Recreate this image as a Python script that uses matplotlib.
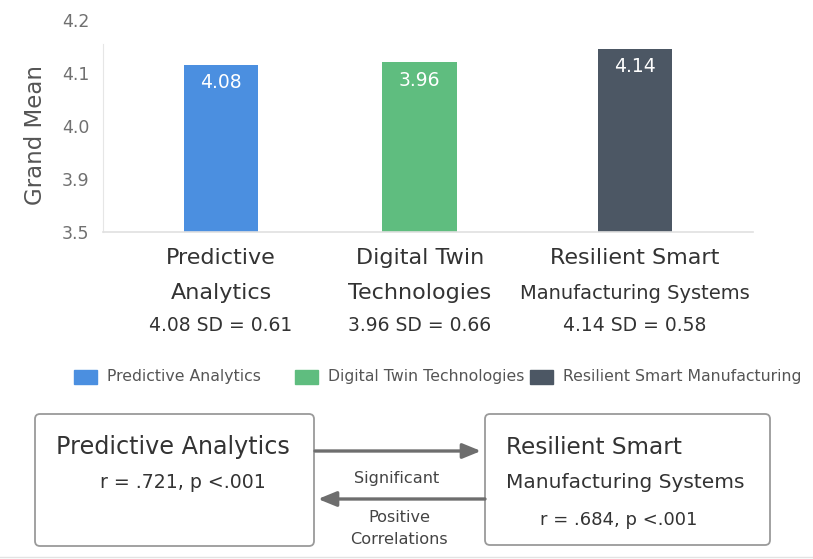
import numpy as np
import matplotlib
matplotlib.use("Agg")
import matplotlib.pyplot as plt
from matplotlib.patches import Rectangle, FancyBboxPatch
from matplotlib.scale import FuncScale

plt.rcParams['font.family'] = ['DejaVu Sans']

# --- data -------------------------------------------------------------
categories = ["Predictive\nAnalytics", "Digital Twin\nTechnologies",
              "Resilient Smart\nManufacturing Systems"]
legend_names = ["Predictive Analytics", "Digital Twin Technologies",
                "Resilient Smart Manufacturing"]
bar_heights = [4.115, 4.12, 4.145]         # drawn heights
mean_labels = ["4.08", "3.96", "4.14"]     # printed on the bars
sd_labels = ["4.08 SD = 0.61", "3.96 SD = 0.66", "4.14 SD = 0.58"]
ytick_vals = [3.5, 3.9, 4.0, 4.1, 4.2]     # evenly spaced on the axis

colors = ["#4b8fe0", "#5fbd7f", "#4c5764"]

# uneven axis: each tick gets the same spacing
tick_pos = np.arange(len(ytick_vals), dtype=float)
def fwd(v):
    return np.interp(v, ytick_vals, tick_pos, left=-1, right=5)
def inv(p):
    return np.interp(p, tick_pos, ytick_vals)

W, H = 813, 559
fig = plt.figure(figsize=(W / 100, H / 100), dpi=100)

# --- bar chart ----------------------------------------------------------
ax = fig.add_axes([103 / W, (H - 232) / H, (753 - 103) / W, (232 - 20) / H])
ax.set_yscale(FuncScale(ax, (fwd, inv)))
x = np.array([0, 0.96, 2])   # bar slots (middle one sits a touch left)
bars = ax.bar(x, np.array(bar_heights) - 3.5, bottom=3.5, width=0.36,
              color=colors, zorder=2)
ax.set_ylim(3.5, 4.2)
ax.set_xlim(-0.57, 2.57)
ax.set_yticks(ytick_vals)
ax.set_yticklabels([f"{v:.1f}" for v in ytick_vals])
ax.tick_params(axis="y", length=0, pad=10, labelsize=12.5, labelcolor="#707070")
ax.set_xticks([])
for s in ["top", "right"]:
    ax.spines[s].set_visible(False)
ax.spines["left"].set_color("#e6e6e6")
ax.spines["left"].set_bounds(3.5, 4.155)
ax.spines["bottom"].set_color("#e0e0e0")
ax.spines["bottom"].set_linewidth(1.2)

for xi, h, lab in zip(x, bar_heights, mean_labels):
    ax.annotate(lab, xy=(xi, h), xytext=(0, -6), textcoords="offset points",
                ha="center", va="top", color="white", fontsize=13.5)

for xi, cat, sd in zip(x, categories, sd_labels):
    l1, l2 = cat.split("\n")
    fs2 = 14 if len(l2) > 15 else 16
    for txt, off, fs in [(l1, -19, 16), (l2, -44, fs2), (sd, -67, 13.5)]:
        ax.annotate(txt, xy=(xi, 0), xycoords=("data", "axes fraction"),
                    xytext=(0, off), textcoords="offset points",
                    ha="center", va="center", fontsize=fs, color="#333333",
                    annotation_clip=False)

fig.text(35 / W, (H - 135) / H, "Grand Mean", rotation=90, ha="center",
         va="center", fontsize=16.5, color="#555555")

# --- overlay in pixel coords for legend and diagram ---------------------
ov = fig.add_axes([0, 0, 1, 1], zorder=-1)
ov.set_xlim(0, W)
ov.set_ylim(H, 0)
ov.axis("off")

legend_x = [74, 295, 530]
for lx, c, name in zip(legend_x, colors, legend_names):
    ov.add_patch(Rectangle((lx, 370), 23, 14, color=c))
    ov.text(lx + 33, 377, name, va="center", ha="left", fontsize=11.3,
            color="#555555")

box_kw = dict(boxstyle="round,pad=0,rounding_size=5", fc="white",
              ec="#9a9a9a", lw=1.3)
ov.add_patch(FancyBboxPatch((35, 414), 279, 132, **box_kw))
ov.add_patch(FancyBboxPatch((485, 414), 285, 131, **box_kw))

ov.text(56, 447, "Predictive Analytics", ha="left", va="center",
        fontsize=17.2, color="#333333")
ov.text(100, 482, "r = .721, p <.001", ha="left", va="center",
        fontsize=13.6, color="#333333")
ov.text(506, 448, "Resilient Smart", ha="left", va="center",
        fontsize=16.7, color="#333333")
ov.text(506, 482, "Manufacturing Systems", ha="left", va="center",
        fontsize=14.5, color="#333333")
ov.text(540, 520, "r = .684, p <.001", ha="left", va="center",
        fontsize=13, color="#333333")

arrow_kw = dict(arrowstyle="-|>,head_length=1.1,head_width=0.45",
                color="#6e6e6e", lw=2.4, shrinkA=0, shrinkB=0)
ov.annotate("", xy=(481, 451), xytext=(315, 451), arrowprops=arrow_kw)
ov.annotate("", xy=(318, 499), xytext=(485, 499), arrowprops=arrow_kw)
ov.text(397, 479, "Significant", ha="center", va="center", fontsize=11.6,
        color="#444444")
ov.text(399, 517, "Positive", ha="center", va="center", fontsize=11.6,
        color="#444444")
ov.text(399, 540, "Correlations", ha="center", va="center", fontsize=11.6,
        color="#444444")
ov.plot([0, W], [557, 557], color="#e3e3e3", lw=1)

fig.savefig("out.png", dpi=100)
